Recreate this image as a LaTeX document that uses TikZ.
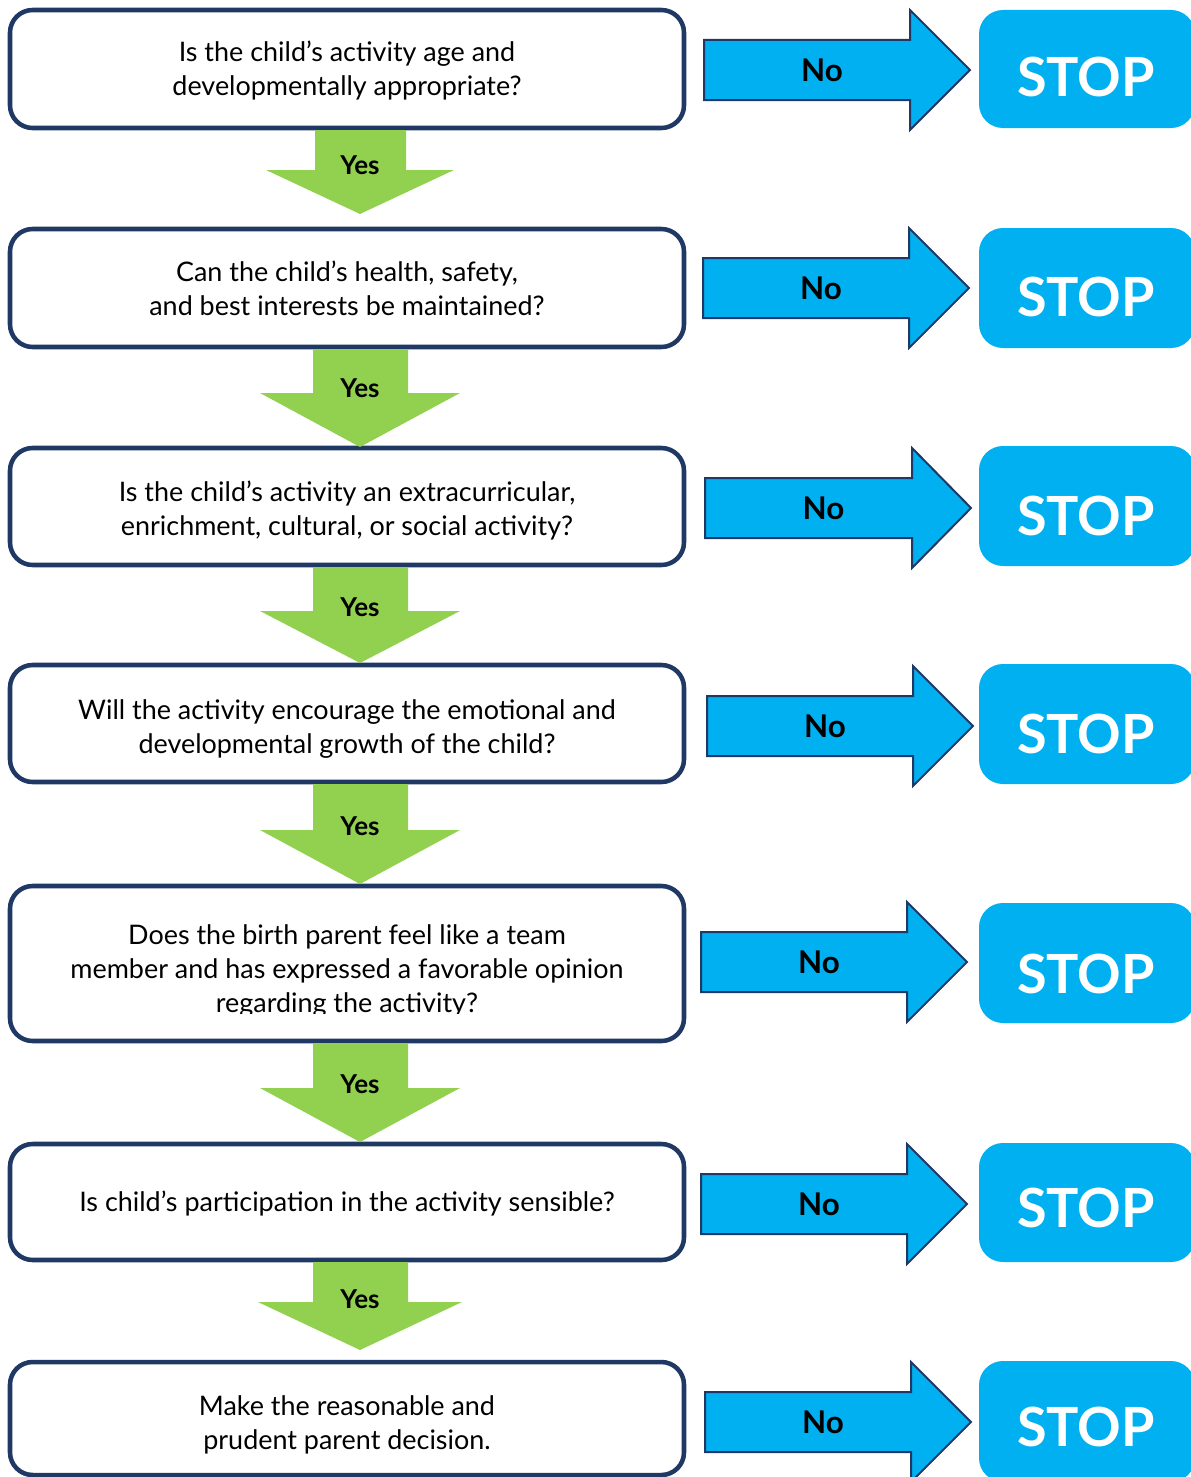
\documentclass[tikz,border=0pt]{standalone}
\usepackage{fontspec}
\setmainfont{Lato}
\definecolor{navy}{HTML}{1F3864}
\definecolor{skyblue}{HTML}{00B0F0}
\definecolor{leafgreen}{HTML}{92D050}
\tikzset{
  qbox/.style={draw=navy, line width=3.4pt, rounded corners=17pt, fill=white,
    minimum width=505.5pt, inner sep=0pt},
  qtext/.style={align=center, inner sep=0pt, font=\fontsize{20.2pt}{25.5pt}\selectfont},
  stopbox/.style={fill=skyblue, rounded corners=18pt, minimum width=162pt, inner sep=0pt},
  stoptext/.style={text=white, font=\bfseries\fontsize{40.5pt}{42pt}\selectfont, inner sep=0pt},
  notext/.style={font=\bfseries\fontsize{23.5pt}{25pt}\selectfont, inner sep=0pt},
  yestext/.style={font=\bfseries\fontsize{19.5pt}{21pt}\selectfont, inner sep=0pt},
  greenarrow/.style={fill=leafgreen},
  bluearrow/.style={fill=skyblue, draw=navy, line width=1.5pt, line join=miter}
}
\begin{document}
\begin{tikzpicture}[x=0.75pt,y=-0.75pt]
\useasboundingbox (0,0) rectangle (1190,1477);
% question boxes: name/top/bottom/text-y/text
\foreach \n/\t/\b/\ty/\txt in {
  1/10/128/71/{Is the child’s activity age and\\developmentally appropriate?},
  2/229/347/288/{Can the child’s health, safety,\\and best interests be maintained?},
  3/448/565/511/{Is the child’s activity an extracurricular,\\enrichment, cultural, or social activity?},
  4/665/782/729/{Will the activity encourage the emotional and\\developmental growth of the child?},
  6/1144/1260/1203/{Is child’s participation in the activity sensible?},
  7/1362/1475/1425/{Make the reasonable and\\prudent parent decision.}}{
  \pgfmathsetmacro{\h}{(\b-\t)*0.75}
  \node[qbox, minimum height=\h pt] (q\n) at (347,{(\t+\b)/2}) {};
  \node[qtext] (qt\n) at (347,\ty) {\txt};
}
\node[qbox, minimum height=116.25pt] (q5) at (347,963.5) {};
\begin{scope}
  \clip (20,895) rectangle (675,1013);
  \node[qtext] (qt5) at (347,971) {Does the birth parent feel like a team\\member and has expressed a favorable opinion\\regarding the activity?};
\end{scope}
% green yes arrows: name/shaft-left/shaft-right/top/head-y/head-left/head-right/tip/label-y
\foreach \n/\sl/\sr/\t/\hy/\hl/\hr/\tip/\ly in {
  1/315/406/130/170/266/454/214/165,
  2/313/408/349/393/260/460/447/388,
  3/313/408/567/611/260/460/663/607,
  4/313/408/784/830/260/460/884/826,
  5/313/408/1043/1088/260/460/1142/1084,
  6/313/408/1262/1302/258/462/1350/1299}{
  \fill[greenarrow] (\sl,\t) -- (\sr,\t) -- (\sr,\hy) -- (\hr,\hy) -- (360,\tip) -- (\hl,\hy) -- (\sl,\hy) -- cycle;
  \node[yestext] (yes\n) at (360,\ly) {Yes};
}
% blue no arrows: name/x0/xh/xtip/yc
\foreach \n/\xa/\xh/\xt/\yc in {
  1/704/910/970/70, 2/703/909/969/288, 3/705/912/971/508, 4/707/913/973/726,
  5/701/907/967/962, 6/701/907/967/1204, 7/705/911/971/1422}{
  \draw[bluearrow] (\xa,\yc-30) -- (\xh,\yc-30) -- (\xh,\yc-60) -- (\xt,\yc) -- (\xh,\yc+60) -- (\xh,\yc+30) -- (\xa,\yc+30) -- cycle;
  \node[notext] (no\n) at ({(\xa+\xh)/2+15},\yc) {No};
}
% stop boxes: name/top/bottom/text-y
\foreach \n/\t/\b/\ty in {
  1/10/128/77, 2/228/348/297, 3/446/566/516, 4/664/784/734,
  5/903/1023/974, 6/1143/1262/1208, 7/1361/1482/1427}{
  \pgfmathsetmacro{\h}{(\b-\t)*0.75}
  \node[stopbox, minimum height=\h pt] (s\n) at (1087,{(\t+\b)/2}) {};
  \node[stoptext] (st\n) at (1086,\ty) {STOP};
}
\end{tikzpicture}
\end{document}
